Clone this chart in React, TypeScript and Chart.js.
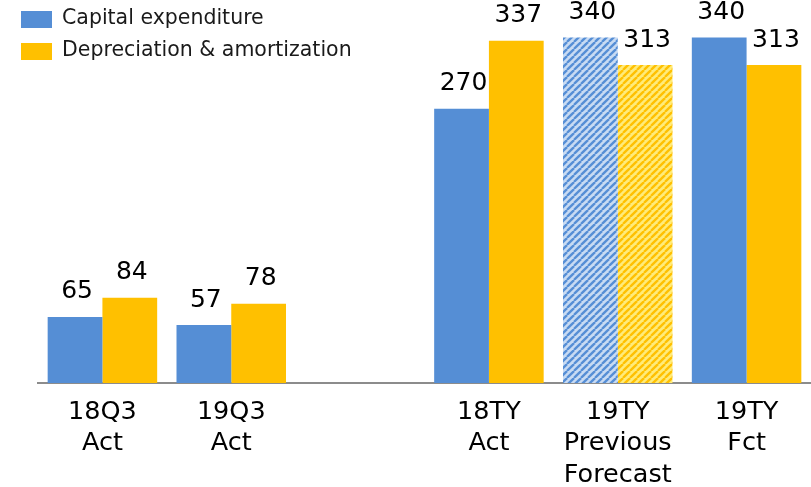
import React, { useEffect, useRef } from "react";
import { Chart, registerables } from "chart.js";

Chart.register(...registerables);

const categories: (string | string[])[] = [
  ["18Q3", "Act"],
  ["19Q3", "Act"],
  "",
  ["18TY", "Act"],
  ["19TY", "Previous", "Forecast"],
  ["19TY", "Fct"],
];
const capitalExpenditure: (number | null)[] = [65, 57, null, 270, 340, 340];
const depreciationAmortization: (number | null)[] = [84, 78, null, 337, 313, 313];
const hatched: boolean[] = [false, false, false, false, true, false];
const legendLabels = ["Capital expenditure", "Depreciation & amortization"];

const BLUE = "#558ED5";
const BLUE_LIGHT = "#C8DBF3";
const YELLOW = "#FFC000";
const YELLOW_LIGHT = "#FFEB7A";
const FONT = '"DejaVu Sans", sans-serif';

function makeHatch(dark: string, light: string): CanvasPattern | string {
  const size = 7;
  const c = document.createElement("canvas");
  c.width = size;
  c.height = size;
  const g = c.getContext("2d");
  if (!g) return dark;
  g.fillStyle = light;
  g.fillRect(0, 0, size, size);
  g.strokeStyle = dark;
  g.lineWidth = 2.3;
  for (const off of [-size, 0, size]) {
    g.beginPath();
    g.moveTo(off, size);
    g.lineTo(off + size, 0);
    g.stroke();
  }
  const p = g.createPattern(c, "repeat");
  return p || dark;
}

export default function App() {
  const ref = useRef<HTMLCanvasElement | null>(null);

  useEffect(() => {
    const canvas = ref.current;
    if (!canvas) return;
    const bluePat = makeHatch(BLUE, BLUE_LIGHT);
    const yellowPat = makeHatch(YELLOW, YELLOW_LIGHT);

    const valueLabels = {
      id: "valueLabels",
      afterDatasetsDraw(chart: any) {
        const ctx = chart.ctx;
        ctx.save();
        ctx.font = `25px ${FONT}`;
        ctx.fillStyle = "#000";
        ctx.textAlign = "center";
        ctx.textBaseline = "middle";
        chart.data.datasets.forEach((ds: any, di: number) => {
          const meta = chart.getDatasetMeta(di);
          meta.data.forEach((el: any, i: number) => {
            const v = ds.data[i];
            if (v === null || v === undefined) return;
            ctx.fillText(String(v), el.x + 2, el.y - 25);
          });
        });
        ctx.restore();
      },
    };

    const legendPlugin = {
      id: "customLegend",
      afterDraw(chart: any) {
        const ctx = chart.ctx;
        ctx.save();
        const colors = [BLUE, YELLOW];
        const ys = [19, 51];
        ctx.font = `20.5px ${FONT}`;
        ctx.textBaseline = "middle";
        ctx.textAlign = "left";
        legendLabels.forEach((t, i) => {
          ctx.fillStyle = colors[i];
          ctx.fillRect(21, ys[i] - 8, 31, 17);
          ctx.fillStyle = "#1a1a1a";
          ctx.fillText(t, 62, ys[i]);
        });
        ctx.restore();
      },
    };

    const chart = new Chart(canvas, {
      type: "bar",
      data: {
        labels: categories as any,
        datasets: [
          {
            label: legendLabels[0],
            data: capitalExpenditure,
            backgroundColor: hatched.map((h) => (h ? bluePat : BLUE)) as any,
            borderWidth: 0,
            barPercentage: 1,
            categoryPercentage: 0.85,
          },
          {
            label: legendLabels[1],
            data: depreciationAmortization,
            backgroundColor: hatched.map((h) => (h ? yellowPat : YELLOW)) as any,
            borderWidth: 0,
            barPercentage: 1,
            categoryPercentage: 0.85,
          },
        ],
      },
      options: {
        responsive: false,
        animation: false,
        layout: { padding: { left: 38, right: 0, top: 0, bottom: 0 } },
        plugins: {
          legend: { display: false },
          tooltip: { enabled: false },
        },
        scales: {
          x: {
            offset: true,
            grid: { display: false },
            border: { display: true, color: "#8c8c8c", width: 2 },
            ticks: {
              color: "#000",
              font: { family: FONT, size: 25.5, lineHeight: 1.25 } as any,
              padding: 5,
              maxRotation: 0,
              minRotation: 0,
              autoSkip: false,
            },
            afterFit: (scale: any) => {
              scale.height = 104;
            },
          },
          y: {
            display: false,
            min: 0,
            max: 377,
          },
        },
      },
      plugins: [valueLabels, legendPlugin],
    });
    return () => chart.destroy();
  }, []);

  return (
    <div style={{ position: "fixed", left: 0, top: 0, width: 811, height: 487, background: "#fff" }}>
      <canvas ref={ref} width={811} height={487} style={{ display: "block" }} />
    </div>
  );
}
